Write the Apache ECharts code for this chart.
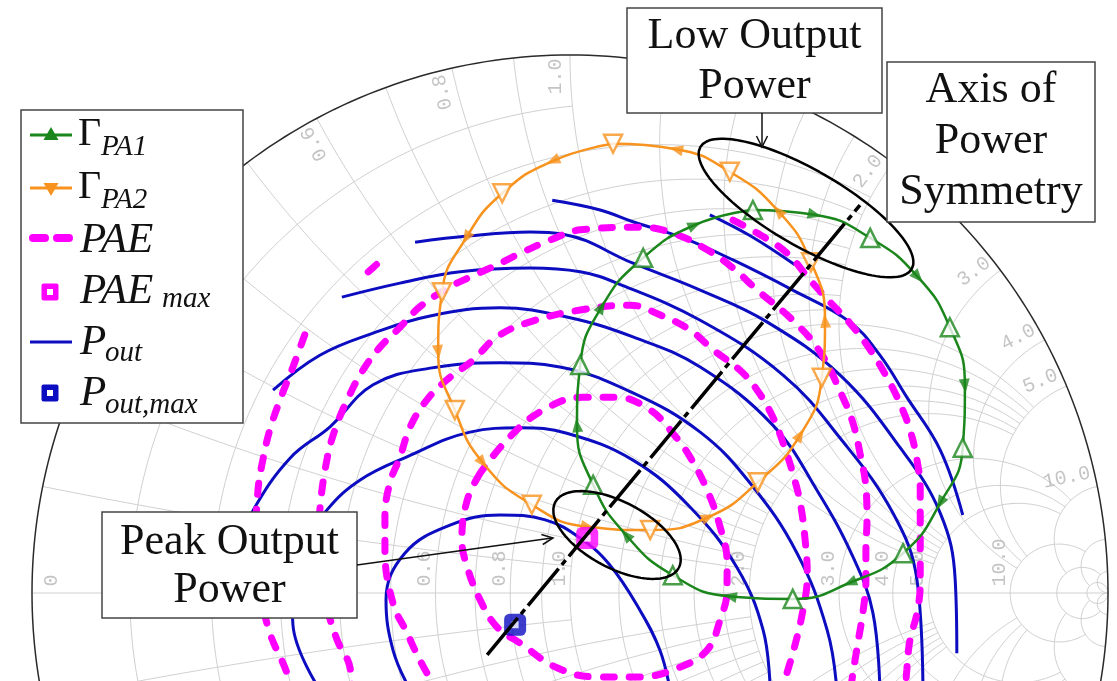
<!DOCTYPE html>
<html><head><meta charset="utf-8">
<script src="https://cdn.jsdelivr.net/npm/echarts/dist/echarts.min.js"></script>
<style>html,body{margin:0;padding:0;background:#fff}#c{width:1117px;height:681px}</style>
</head><body><div id="c"></div>
<script>
// ===== DATA (reflection coefficient plane: [Re(Γ), Im(Γ)]) =====
const gammaPA1 = [[0.340,0.712],[0.455,0.703],[0.558,0.660],[0.647,0.587],[0.706,0.494],[0.734,0.385],[0.730,0.270],[0.688,0.167],[0.619,0.074],[0.520,0.019],[0.414,-0.011],[0.297,-0.006],[0.191,0.033],[0.104,0.108],[0.043,0.201],[0.013,0.312],[0.019,0.424],[0.059,0.532],[0.136,0.623],[0.232,0.684],[0.340,0.712]];
const gammaPA2 = [[0.080,0.835],[-0.032,0.803],[-0.126,0.743],[-0.193,0.660],[-0.238,0.559],[-0.245,0.448],[-0.214,0.340],[-0.162,0.242],[-0.071,0.164],[0.033,0.123],[0.149,0.117],[0.257,0.141],[0.349,0.206],[0.428,0.294],[0.468,0.400],[0.474,0.506],[0.448,0.615],[0.387,0.710],[0.297,0.783],[0.197,0.825],[0.080,0.835]];

const poutF = [[-0.033,0.730],[0.056,0.712],[0.117,0.690],[0.210,0.660],[0.303,0.619],[0.414,0.563],[0.520,0.504],[0.576,0.442],[0.626,0.364],[0.688,0.266],[0.730,0.145]];
const poutS = [[0.260,0.703],[0.335,0.664],[0.418,0.610]];
const poutE = [[-0.288,0.652],[-0.186,0.664],[-0.074,0.671],[-0.013,0.667],[0.117,0.613],[0.242,0.563],[0.366,0.504],[0.502,0.405],[0.613,0.271],[0.688,0.149],[0.716,0.024],[0.719,-0.112]];
const poutD = [[-0.424,0.550],[-0.316,0.576],[-0.204,0.597],[-0.074,0.604],[0.019,0.597],[0.087,0.576],[0.242,0.507],[0.396,0.405],[0.502,0.288],[0.600,0.149],[0.645,0.024],[0.656,-0.180]];
const poutC = [[-0.552,0.377],[-0.465,0.442],[-0.366,0.483],[-0.260,0.515],[-0.130,0.530],[-0.006,0.513],[0.117,0.476],[0.242,0.420],[0.377,0.312],[0.459,0.191],[0.526,0.067],[0.563,-0.037],[0.576,-0.180]];
const poutB = [[-0.604,0.108],[-0.589,0.154],[-0.520,0.251],[-0.446,0.309],[-0.366,0.387],[-0.260,0.418],[-0.130,0.428],[-0.019,0.420],[0.117,0.372],[0.242,0.299],[0.335,0.204],[0.422,0.074],[0.478,-0.069],[0.496,-0.180]];
const poutA = [[-0.465,-0.180],[-0.515,-0.059],[-0.517,0.015],[-0.493,0.089],[-0.452,0.154],[-0.390,0.210],[-0.303,0.253],[-0.186,0.299],[-0.093,0.307],[-0.006,0.297],[0.117,0.247],[0.223,0.160],[0.310,0.048],[0.359,-0.069],[0.372,-0.180]];
const poutG = [[-0.297,-0.180],[-0.329,-0.106],[-0.342,-0.013],[-0.307,0.074],[-0.223,0.126],[-0.130,0.145],[-0.046,0.136],[0.019,0.102],[0.074,0.052],[0.130,-0.032],[0.167,-0.106],[0.186,-0.180]];

const pae1 = [[-0.167,0.223],[-0.191,0.173],[-0.201,0.099],[-0.191,0.048],[-0.167,-0.013],[-0.136,-0.063],[-0.093,-0.093],[-0.024,-0.139],[0.050,-0.156],[0.130,-0.156],[0.204,-0.138],[0.255,-0.106],[0.279,-0.050],[0.292,0.006],[0.292,0.056],[0.279,0.123],[0.255,0.191],[0.223,0.253],[0.191,0.297],[0.149,0.340],[0.087,0.364],[0.024,0.364],[-0.050,0.340],[-0.112,0.290],[-0.167,0.223]];
const pae2 = [[-0.242,-0.190],[-0.279,-0.125],[-0.303,-0.074],[-0.329,-0.019],[-0.344,0.080],[-0.344,0.141],[-0.335,0.204],[-0.316,0.253],[-0.297,0.309],[-0.266,0.359],[-0.229,0.396],[-0.180,0.433],[-0.136,0.476],[-0.074,0.504],[0.019,0.526],[0.112,0.535],[0.167,0.517],[0.223,0.489],[0.266,0.452],[0.316,0.414],[0.348,0.377],[0.377,0.327],[0.396,0.279],[0.414,0.223],[0.428,0.167],[0.437,0.099],[0.441,0.033],[0.433,-0.032],[0.414,-0.112],[0.390,-0.190]];
const pae3 = [[-0.405,-0.190],[-0.409,-0.138],[-0.433,-0.087],[-0.455,-0.013],[-0.468,0.071],[-0.465,0.154],[-0.452,0.247],[-0.437,0.303],[-0.414,0.359],[-0.385,0.414],[-0.353,0.457],[-0.316,0.494],[-0.279,0.532],[-0.223,0.569],[-0.186,0.587],[-0.136,0.610],[-0.087,0.634],[-0.037,0.656],[0.019,0.675],[0.130,0.680],[0.191,0.669],[0.255,0.638],[0.303,0.604],[0.348,0.563],[0.414,0.507],[0.465,0.448],[0.507,0.364],[0.526,0.316],[0.539,0.260],[0.550,0.197],[0.552,0.136],[0.550,0.080],[0.550,0.024],[0.545,-0.032],[0.535,-0.093],[0.526,-0.149],[0.520,-0.190]];
const pae4L = [[-0.493,0.480],[-0.515,0.420],[-0.539,0.359],[-0.558,0.303],[-0.571,0.247],[-0.580,0.191],[-0.584,0.099],[-0.576,0.006],[-0.558,-0.074],[-0.526,-0.149],[-0.517,-0.190]];
const pae4R = [[0.303,0.693],[0.348,0.669],[0.403,0.632],[0.446,0.582],[0.483,0.541],[0.520,0.502],[0.558,0.452],[0.589,0.401],[0.613,0.353],[0.632,0.303],[0.645,0.247],[0.651,0.191],[0.651,0.130],[0.651,0.074],[0.651,0.019],[0.645,-0.037],[0.632,-0.087],[0.626,-0.143],[0.623,-0.190]];
const paeFragment = [[-0.375,0.597],[-0.357,0.613]];

const paeMax = [[0.032,0.102]];
const poutMax = [[-0.102,-0.059]];
const symmetryAxis = [[-0.154,-0.115],[0.539,0.721]];

// Smith chart grid values and tick labels
const gridValues = [0.1,0.2,0.3,0.4,0.5,0.6,0.7,0.8,0.9,1,1.2,1.4,1.6,1.8,2,3,4,5,10,20,50];
const gridLimits = [1,2,2,2,2,2,2,2,2,5,5,5,5,5,5,10,10,10,20,50,Infinity];
const rLabelValues = [0.2,0.4,0.6,0.8,1,2,3,4,5,10];
const xLabelValues = [0.2,0.4,0.6,0.8,1,2,3,4,5,10];

// ===== STYLE / LAYOUT =====
const GREEN = '#1b861b', ORANGE = '#f7931e', BLUE = '#0c0cc0', MAGENTA = '#ff00ff';
const GRID_COLOR = '#d0d0d0';
const PXR = 538;               // pixels per unit |Γ|
const CX = 570, CY = 593;      // pixel position of Γ = 0
const W = 1117, H = 681;
const SERIF = '"Liberation Serif","Times New Roman",serif';

function zToGamma(r, x) { const d = (r + 1) * (r + 1) + x * x; return [(r * r - 1 + x * x) / d, 2 * x / d]; }

const series = [];
function gridLine(pts, color, width) {
  series.push({ type: 'line', data: pts, symbol: 'none', silent: true, z: 1,
    lineStyle: { color: color, width: width } });
}
// constant resistance circles
gridValues.forEach((r, i) => {
  const lim = gridLimits[i];
  const A = isFinite(lim) ? Math.atan(lim / (1 + r)) : Math.PI / 2 - 1e-6;
  const pts = []; const N = 180;
  for (let k = 0; k <= N; k++) { const a = -A + 2 * A * k / N; pts.push(zToGamma(r, (1 + r) * Math.tan(a))); }
  gridLine(pts, GRID_COLOR, 1);
});
// constant reactance arcs
gridValues.forEach((x, i) => {
  const lim = gridLimits[i];
  const g0 = isFinite(lim) ? Math.atan(x / (1 + lim)) : 1e-6;
  const g1 = Math.atan(x);
  [1, -1].forEach(s => {
    const pts = []; const N = 140;
    for (let k = 0; k <= N; k++) { const g = g1 - (g1 - g0) * k / N; const r = x / Math.tan(g) - 1; pts.push(zToGamma(Math.max(r, 0), s * x)); }
    gridLine(pts, GRID_COLOR, 1);
  });
});
gridLine([[-1, 0], [1, 0]], GRID_COLOR, 1);
(function () { const pts = []; const N = 360; for (let k = 0; k <= N; k++) { const t = 2 * Math.PI * k / N; pts.push([Math.cos(t), Math.sin(t)]); } gridLine(pts, '#2a2a2a', 1.5); })();

// tick labels
const labelFont = { fontFamily: '"Liberation Mono","DejaVu Sans Mono",monospace', fontSize: 20, color: '#b5b5b5' };
const rLabelData = rLabelValues.map(r => ({ value: [(r - 1) / (r + 1) - 10 / PXR, 6 / PXR],
  label: { formatter: r.toFixed(1), rotate: 90, align: 'left' } }));
rLabelData.push({ value: [-1 + 20 / PXR, 6 / PXR], label: { formatter: '0', rotate: 90, align: 'left' } });
const xLabelData = xLabelValues.map(x => {
  const g = zToGamma(0, x); const th = Math.atan2(g[1], g[0]);
  return { value: [g[0] * (1 - 4 / PXR) - Math.sin(th) * 14 / PXR, g[1] * (1 - 4 / PXR) + Math.cos(th) * 14 / PXR],
    label: { formatter: x.toFixed(1), rotate: th * 180 / Math.PI, align: 'right' } };
});
series.push({ type: 'scatter', data: rLabelData.concat(xLabelData), symbolSize: 1, silent: true, z: 2,
  itemStyle: { color: 'rgba(0,0,0,0)' },
  label: Object.assign({ show: true, position: [0, 0], verticalAlign: 'middle' }, labelFont) });

// Pout contours
[poutG, poutA, poutB, poutC, poutD, poutE, poutF, poutS].forEach(c => {
  series.push({ type: 'line', data: c, symbol: 'none', smooth: 0.4, silent: true, z: 3,
    lineStyle: { color: BLUE, width: 3 } });
});
// PAE contours
[pae1, pae2, pae3, pae4L, pae4R, paeFragment].forEach(c => {
  series.push({ type: 'line', data: c, symbol: 'none', smooth: 0.4, silent: true, z: 4,
    lineStyle: { color: MAGENTA, width: 7, type: [11, 15], cap: 'round' } });
});

// Γ trajectories with markers and direction arrows
function markerData(curve) { return curve.slice(0, -1).filter((_, i) => i % 2 === 0); }
function arrowData(curve) {
  const out = [];
  for (let i = 1; i < curve.length - 1; i += 2) {
    const p = curve[i - 1], q = curve[i + 1];
    const ang = Math.atan2(q[1] - p[1], q[0] - p[0]) * 180 / Math.PI;
    out.push({ value: curve[i], symbolRotate: ang - 90 });
  }
  return out;
}
[[gammaPA2, ORANGE, 180], [gammaPA1, GREEN, 0]].forEach(([c, col, rot]) => {
  series.push({ type: 'line', data: c, symbol: 'none', smooth: 0.5, silent: true, z: 5, lineStyle: { color: col, width: 2.5 } });
  series.push({ type: 'scatter', data: markerData(c), symbol: 'triangle', symbolSize: 18, symbolRotate: rot, silent: true, z: 6,
    itemStyle: { color: '#ffffff', borderColor: col, borderWidth: 2.5 } });
  series.push({ type: 'scatter', data: arrowData(c), symbol: 'triangle', symbolSize: [11, 14], silent: true, z: 6,
    itemStyle: { color: col } });
});

// maxima (coloured square with a small white centre)
[[paeMax, MAGENTA], [poutMax, BLUE]].forEach(([d, col]) => {
  series.push({ type: 'scatter', data: d, symbol: 'roundRect', symbolSize: 22, silent: true, z: 7, itemStyle: { color: col } });
  series.push({ type: 'scatter', data: d, symbol: 'rect', symbolSize: 7, silent: true, z: 7, itemStyle: { color: '#ffffff' } });
});

// annotation: axis of symmetry and ellipses
series.push({ type: 'line', data: symmetryAxis, symbol: 'none', silent: true, z: 8,
  lineStyle: { color: '#000', width: 3.5, type: [48, 5, 6, 5] } });
function ellipse(cu, cv, a, b, angDeg) {
  const t0 = angDeg * Math.PI / 180, pts = [];
  for (let k = 0; k <= 120; k++) { const t = 2 * Math.PI * k / 120;
    const x = a * Math.cos(t), y = b * Math.sin(t);
    pts.push([cu + x * Math.cos(t0) - y * Math.sin(t0), cv + x * Math.sin(t0) + y * Math.cos(t0)]); }
  return pts;
}
series.push({ type: 'line', data: ellipse(0.4387, 0.7156, 0.2268, 0.0706, -30), symbol: 'none', silent: true, z: 8,
  lineStyle: { color: '#000', width: 2.5 } });
series.push({ type: 'line', data: ellipse(0.0874, 0.1078, 0.1301, 0.0613, -28), symbol: 'none', silent: true, z: 8,
  lineStyle: { color: '#000', width: 2.5 } });

// ===== graphic overlays: legend & text boxes =====
const boxStyle = { fill: '#fff', stroke: '#444', lineWidth: 1.5 };
function txt(x, y, text, font, extra) {
  return { type: 'text', x: x, y: y, z: 102, style: Object.assign({ text: text, font: font, fill: '#111', verticalAlign: 'middle', align: 'left' }, extra || {}) };
}
const graphics = [
  // legend
  { type: 'rect', z: 100, shape: { x: 21, y: 110, width: 222, height: 313 }, style: boxStyle },
  { type: 'line', z: 101, shape: { x1: 30, y1: 135, x2: 72, y2: 135 }, style: { stroke: GREEN, lineWidth: 3 } },
  { type: 'polygon', z: 101, shape: { points: [[51, 127], [58.5, 140], [43.5, 140]] }, style: { fill: GREEN } },
  { type: 'line', z: 101, shape: { x1: 30, y1: 188, x2: 72, y2: 188 }, style: { stroke: ORANGE, lineWidth: 3 } },
  { type: 'polygon', z: 101, shape: { points: [[43.5, 183], [58.5, 183], [51, 196]] }, style: { fill: ORANGE } },
  { type: 'line', z: 101, shape: { x1: 33, y1: 238, x2: 45, y2: 238 }, style: { stroke: MAGENTA, lineWidth: 8, lineCap: 'round' } },
  { type: 'line', z: 101, shape: { x1: 57, y1: 238, x2: 69, y2: 238 }, style: { stroke: MAGENTA, lineWidth: 8, lineCap: 'round' } },
  { type: 'rect', z: 101, shape: { x: 41.5, y: 283.5, width: 17, height: 17, r: 2 }, style: { fill: MAGENTA } },
  { type: 'rect', z: 102, shape: { x: 47, y: 289, width: 6, height: 6 }, style: { fill: '#fff' } },
  { type: 'line', z: 101, shape: { x1: 30, y1: 342, x2: 72, y2: 342 }, style: { stroke: BLUE, lineWidth: 3 } },
  { type: 'rect', z: 101, shape: { x: 41.5, y: 384.5, width: 17, height: 17, r: 2 }, style: { fill: BLUE } },
  { type: 'rect', z: 102, shape: { x: 47, y: 390, width: 6, height: 6 }, style: { fill: '#fff' } },
  txt(78, 134, 'Γ', '40px ' + SERIF),
  txt(101, 147, 'PA1', 'italic 29px ' + SERIF),
  txt(78, 187, 'Γ', '40px ' + SERIF),
  txt(101, 200, 'PA2', 'italic 29px ' + SERIF),
  txt(80, 241, 'PAE', 'italic 43px ' + SERIF),
  txt(80, 292, 'PAE', 'italic 43px ' + SERIF),
  txt(162, 299, 'max', 'italic 29px ' + SERIF),
  txt(80, 343, 'P', 'italic 43px ' + SERIF),
  txt(105, 353, 'out', 'italic 29px ' + SERIF),
  txt(80, 394, 'P', 'italic 43px ' + SERIF),
  txt(105, 405, 'out,max', 'italic 29px ' + SERIF),
  // text boxes
  { type: 'rect', z: 100, shape: { x: 627, y: 8, width: 255, height: 105 }, style: boxStyle },
  txt(754.5, 61, 'Low Output\nPower', '44px ' + SERIF, { align: 'center', lineHeight: 50 }),
  { type: 'rect', z: 100, shape: { x: 887, y: 62, width: 208, height: 160 }, style: boxStyle },
  txt(991, 141, 'Axis of\nPower\nSymmetry', '44px ' + SERIF, { align: 'center', lineHeight: 51 }),
  { type: 'rect', z: 100, shape: { x: 102, y: 512, width: 255, height: 106 }, style: boxStyle },
  txt(229.5, 566, 'Peak Output\nPower', '44px ' + SERIF, { align: 'center', lineHeight: 48 }),
  // arrows
  { type: 'line', z: 101, shape: { x1: 762, y1: 113, x2: 762, y2: 146 }, style: { stroke: '#111', lineWidth: 1.5 } },
  { type: 'polyline', z: 101, shape: { points: [[756.5, 136], [762, 147], [767.5, 136]] }, style: { stroke: '#111', lineWidth: 1.5, fill: null } },
  { type: 'line', z: 101, shape: { x1: 357, y1: 565, x2: 552, y2: 538 }, style: { stroke: '#111', lineWidth: 1.5 } },
  { type: 'polyline', z: 101, shape: { points: [[542.8, 544.5], [553, 538], [541.4, 534.5]] }, style: { stroke: '#111', lineWidth: 1.5, fill: null } }
];

const chart = echarts.init(document.getElementById('c'), null, { renderer: 'canvas' });
chart.setOption({
  animation: false,
  backgroundColor: '#ffffff',
  grid: { left: 0, right: 0, top: 0, bottom: 0, containLabel: false, outerBoundsMode: 'none' },
  xAxis: { type: 'value', min: -CX / PXR, max: (W - CX) / PXR, show: false },
  yAxis: { type: 'value', min: -(H - CY) / PXR, max: CY / PXR, show: false },
  series: series,
  graphic: graphics
});
</script>
</body></html>
